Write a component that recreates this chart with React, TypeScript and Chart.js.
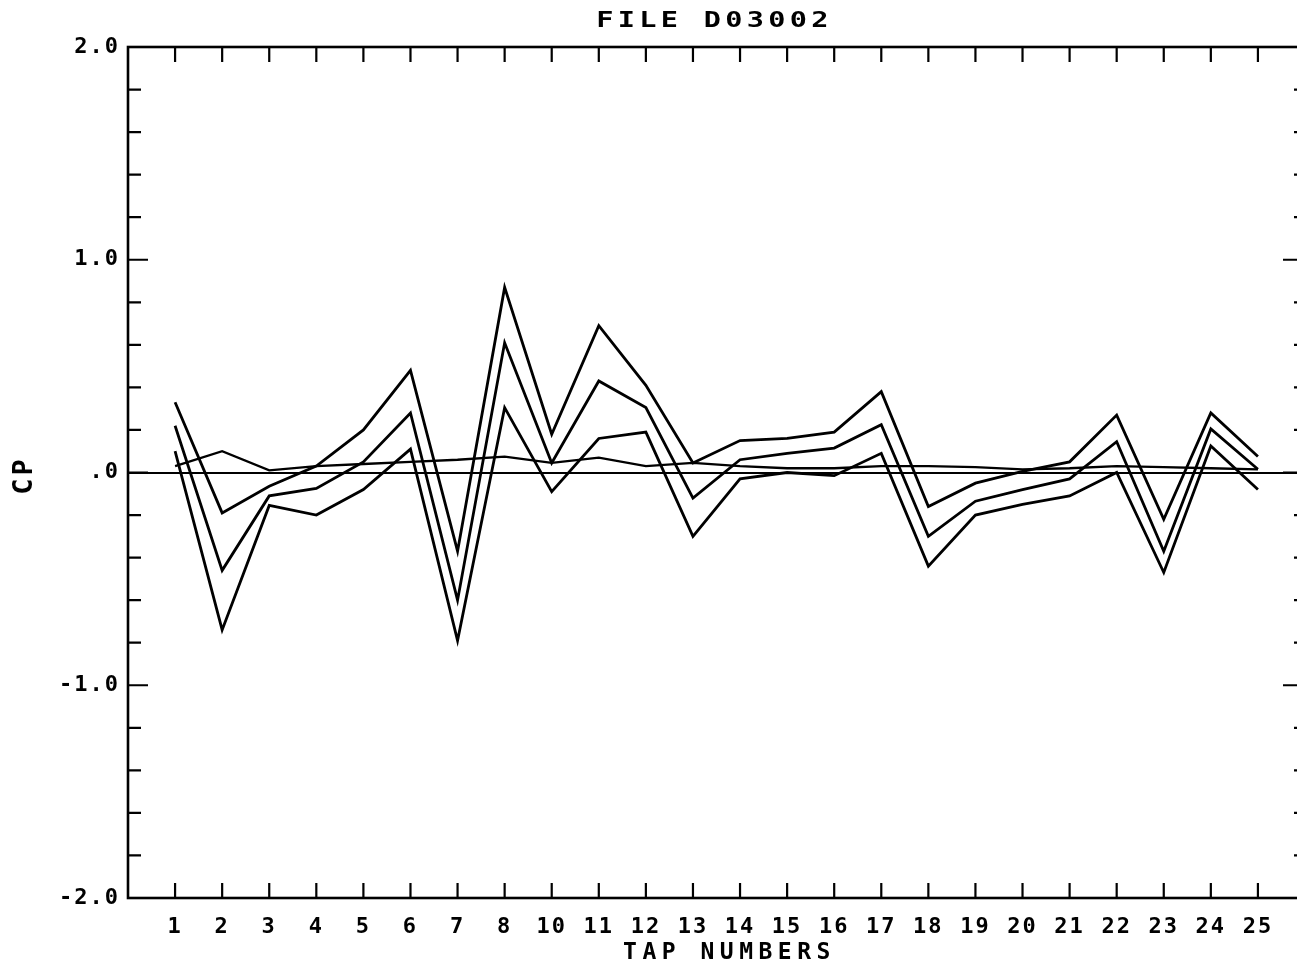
import React, { useEffect, useRef } from "react";
import { Chart, registerables } from "chart.js";

Chart.register(...registerables);

const TITLE = "FILE D03002";
const X_TITLE = "TAP NUMBERS";
const Y_TITLE = "CP";

const TAP_LABELS = ["1", "2", "3", "4", "5", "6", "7", "8", "10", "11", "12", "13", "14", "15", "16", "17", "18", "19", "20", "21", "22", "23", "24", "25"];

const Y_MIN = -2;
const Y_MAX = 2;
const Y_STEP = 0.2;
const Y_TICK_LABELS: Record<string, string> = { "-2": "-2.0", "-1": "-1.0", "0": ".0", "1": "1.0", "2": "2.0" };

const UPPER = [0.33, -0.19, -0.065, 0.03, 0.2, 0.48, -0.37, 0.87, 0.18, 0.69, 0.41, 0.045, 0.15, 0.16, 0.19, 0.38, -0.16, -0.05, 0.005, 0.05, 0.27, -0.22, 0.28, 0.075];
const MIDDLE = [0.22, -0.46, -0.11, -0.075, 0.05, 0.28, -0.6, 0.61, 0.045, 0.43, 0.305, -0.12, 0.06, 0.09, 0.115, 0.225, -0.3, -0.135, -0.08, -0.03, 0.145, -0.37, 0.205, 0.015];
const LOWER = [0.1, -0.74, -0.155, -0.2, -0.08, 0.11, -0.79, 0.305, -0.09, 0.16, 0.19, -0.3, -0.03, 0.0, -0.015, 0.09, -0.44, -0.2, -0.15, -0.11, 0.0, -0.47, 0.125, -0.08];
const FLAT = [0.03, 0.1, 0.01, 0.03, 0.04, 0.05, 0.06, 0.075, 0.045, 0.07, 0.03, 0.045, 0.03, 0.02, 0.02, 0.03, 0.03, 0.025, 0.015, 0.02, 0.03, 0.025, 0.02, 0.015];

const FONT = '"DejaVu Sans Mono", monospace';

export default function App() {
  const ref = useRef<HTMLCanvasElement>(null);

  useEffect(() => {
    const canvas = ref.current;
    if (!canvas) return;

    const toPts = (arr: number[]) => arr.map((y, i) => ({ x: i, y }));
    const ds = (data: number[]) => ({
      data: toPts(data),
      borderColor: "#000",
      borderWidth: 2.8,
      pointRadius: 0,
      tension: 0,
      fill: false,
    });

    const spacingPlugin = {
      id: "spacing",
      beforeUpdate(c: any) {
        c.ctx.letterSpacing = "2px";
      },
      beforeDraw(c: any) {
        c.ctx.letterSpacing = "2px";
      },
    };

    const framePlugin = {
      id: "frame",
      afterDraw(c: any) {
        const ctx = c.ctx;
        const { left, right, top, bottom } = c.chartArea;
        const xs = c.scales.x;
        const ys = c.scales.y;
        ctx.save();
        ctx.strokeStyle = "#000";
        ctx.lineWidth = 2.6;
        ctx.strokeRect(left, top, right - left, bottom - top);
        ctx.lineWidth = 2.2;
        ctx.beginPath();
        xs.ticks.forEach((t: any) => {
          if (TAP_LABELS[t.value] === undefined) return;
          const px = xs.getPixelForValue(t.value);
          ctx.moveTo(px, top);
          ctx.lineTo(px, top + 15);
          ctx.moveTo(px, bottom);
          ctx.lineTo(px, bottom - 15);
        });
        ys.ticks.forEach((t: any) => {
          if (t.value <= Y_MIN + 1e-6 || t.value >= Y_MAX - 1e-6) return;
          const py = ys.getPixelForValue(t.value);
          const major = Math.abs(t.value - Math.round(t.value)) < 1e-6;
          ctx.moveTo(left, py);
          ctx.lineTo(left + (major ? 20 : 13), py);
          ctx.moveTo(right, py);
          ctx.lineTo(right - (major ? 22 : 11), py);
        });
        ctx.stroke();

        ctx.fillStyle = "#000";
        ctx.textAlign = "center";
        ctx.textBaseline = "middle";
        const cx = (left + right) / 2;

        // chart title (stretched plotter lettering)
        ctx.save();
        ctx.font = `bold 22px ${FONT}`;
        ctx.letterSpacing = "3.3px";
        ctx.translate(cx - 4, 21);
        ctx.scale(1.3, 1);
        ctx.fillText(TITLE, 1.6, 0);
        ctx.restore();

        // x axis title
        ctx.save();
        ctx.font = `bold 23px ${FONT}`;
        ctx.letterSpacing = "5.5px";
        ctx.fillText(X_TITLE, cx + 13, 953);
        ctx.restore();

        // y axis title
        ctx.save();
        ctx.font = `bold 27px ${FONT}`;
        ctx.letterSpacing = "3px";
        ctx.translate(25, 477);
        ctx.rotate(-Math.PI / 2);
        ctx.fillText(Y_TITLE, 1.5, 0);
        ctx.restore();

        ctx.restore();
      },
    };

    const chart = new Chart(canvas, {
      type: "line",
      data: {
        datasets: [ds(UPPER), ds(MIDDLE), ds(LOWER), { ...ds(FLAT), borderWidth: 2.3 }],
      },
      options: {
        animation: false,
        responsive: false,
        devicePixelRatio: 1,
        layout: { padding: { top: 47, right: 0, left: 0, bottom: 0 } },
        plugins: {
          legend: { display: false },
          tooltip: { enabled: false },
          title: { display: false },
        },
        scales: {
          x: {
            type: "linear",
            min: -1,
            max: TAP_LABELS.length,
            afterFit: (s: any) => {
              s.height = 69;
            },
            border: { display: false },
            grid: { display: false, drawTicks: false },
            ticks: {
              stepSize: 1,
              maxTicksLimit: 100,
              autoSkip: false,
              maxRotation: 0,
              padding: 16,
              color: "#000",
              font: { family: FONT, size: 22, weight: "bold" },
              callback: (v: any) => TAP_LABELS[v as number] ?? "",
            },
          },
          y: {
            type: "linear",
            min: Y_MIN,
            max: Y_MAX,
            afterFit: (s: any) => {
              s.width = 128;
            },
            border: { display: false },
            grid: {
              drawTicks: false,
              lineWidth: 2,
              color: (ctx: any) => (ctx.tick && Math.abs(ctx.tick.value) < 1e-6 ? "#000" : "rgba(0,0,0,0)"),
            },
            ticks: {
              stepSize: Y_STEP,
              maxTicksLimit: 100,
              autoSkip: false,
              padding: 8,
              color: "#000",
              font: { family: FONT, size: 22, weight: "bold" },
              callback: (v: any) => {
                const n = Number(v);
                const r = Math.round(n);
                if (Math.abs(n - r) > 1e-6) return "";
                return Y_TICK_LABELS[String(r)] ?? "";
              },
            },
          },
        },
      },
      plugins: [spacingPlugin, framePlugin],
    } as any);

    return () => chart.destroy();
  }, []);

  return (
    <div style={{ position: "absolute", left: 0, top: 0, width: 1297, height: 967, overflow: "hidden", background: "#fff" }}>
      <canvas ref={ref} width={1321} height={967} style={{ display: "block" }} />
    </div>
  );
}
